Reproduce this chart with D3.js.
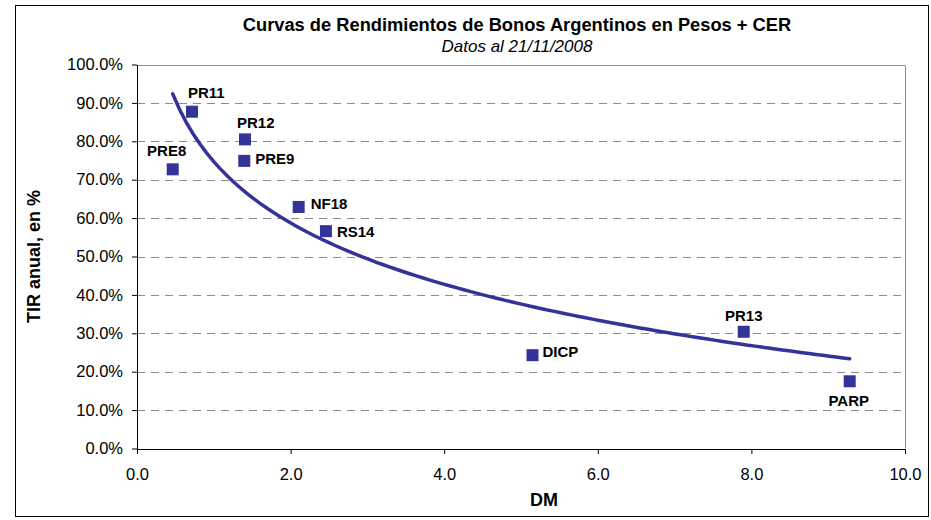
<!DOCTYPE html>
<html>
<head>
<meta charset="utf-8">
<script src="https://cdn.jsdelivr.net/npm/d3@7"></script>
<style>
  body { margin: 0; background: #fff; }
  svg { display: block; font-family: "Liberation Sans", Arial, sans-serif; }
</style>
</head>
<body>
<script>
// bonos (duracion modificada vs TIR)
let bonds = ["PRE8", "PR11", "PR12", "PRE9", "NF18", "RS14", "DICP", "PR13", "PARP"];
let dm    = [0.465, 0.716, 1.406, 1.397, 2.105, 2.46, 5.15, 7.90, 9.28];
let tir   = [0.727, 0.877, 0.805, 0.749, 0.629, 0.566, 0.243, 0.304, 0.175];

let xTicks = [0, 2, 4, 6, 8, 10];
let yTicks = [0, 0.1, 0.2, 0.3, 0.4, 0.5, 0.6, 0.7, 0.8, 0.9, 1.0];

// donde va cada etiqueta respecto del punto: [dx, dy, anchor]
let labelPlace = [
  [-6, -13, "middle"],
  [-4, -14, "start"],
  [-8, -11, "start"],
  [11, 3, "start"],
  [12, 2, "start"],
  [11, 6, "start"],
  [10, 2, "start"],
  [0, -11, "middle"],
  [-1, 25, "middle"]
];

let w = 931, h = 520;
let pad = { top: 64.5, rig: 26, bot: 71.5, lef: 137 };
let navy = "#333399";

let svg = d3.select("body").append("svg")
  .attr("width", w)
  .attr("height", h)
  .attr("viewBox", "0 0 " + w + " " + h);

// marco exterior
svg.append("rect")
  .attr("x", 15.5).attr("y", 5.5)
  .attr("width", 913).attr("height", 511)
  .attr("fill", "none")
  .attr("stroke", "#000")
  .attr("stroke-width", 1);

let xScale = d3.scaleLinear().domain([0, 10]).range([pad.lef, w - pad.rig]);
let yScale = d3.scaleLinear().domain([0, 1]).range([h - pad.bot, pad.top]);

// grilla
svg.append("g")
  .selectAll("line")
  .data(yTicks.filter(d => d > 0 && d < 1))
  .enter()
  .append("line")
  .attr("x1", xScale(0)).attr("x2", xScale(10))
  .attr("y1", d => Math.round(yScale(d)) + 0.5)
  .attr("y2", d => Math.round(yScale(d)) + 0.5)
  .attr("stroke", "#8c8c8c")
  .attr("stroke-dasharray", "8,6");

// borde gris arriba y a la derecha
svg.append("path")
  .attr("d", "M" + xScale(0) + "," + (Math.round(yScale(1)) + 0.5) +
             "H" + (Math.round(xScale(10)) + 0.5) + "V" + yScale(0))
  .attr("fill", "none")
  .attr("stroke", "#8c8c8c");

let xAxis = svg.append("g")
  .attr("transform", "translate(0," + Math.round(yScale(0)) + ")")
  .call(d3.axisBottom(xScale).tickValues(xTicks).tickFormat(d3.format(".1f")).tickSize(5).tickSizeOuter(0));
xAxis.selectAll("text").attr("font-size", "16.5px").attr("dy", "1.4em").attr("fill", "#000");

let yAxis = svg.append("g")
  .attr("transform", "translate(" + xScale(0) + ",0)")
  .call(d3.axisLeft(yScale).tickValues(yTicks).tickFormat(d3.format(".1%")).tickSize(5).tickSizeOuter(0));
yAxis.selectAll("text").attr("font-size", "16.5px").attr("x", -14).attr("fill", "#000");

svg.selectAll(".domain, .tick line").attr("stroke", "#000");
svg.selectAll("g text").attr("font-family", "'Liberation Sans', Arial, sans-serif");

// linea de tendencia logaritmica (ajuste por minimos cuadrados, como Excel)
let lnx = dm.map(Math.log);
let mx = d3.mean(lnx), my = d3.mean(tir);
let b = d3.sum(lnx, (v, i) => (v - mx) * (tir[i] - my)) / d3.sum(lnx, v => (v - mx) * (v - mx));
let a = my - b * mx;
let xr = d3.extent(dm);
let trendX = d3.range(0, 101).map(i => xr[0] + (xr[1] - xr[0]) * i / 100);

svg.append("path")
  .datum(trendX)
  .attr("fill", "none")
  .attr("stroke", navy)
  .attr("stroke-width", 3.5)
  .attr("stroke-linecap", "round")
  .attr("d", d3.line().x(d => xScale(d)).y(d => yScale(a + b * Math.log(d))));

// puntos
let pts = bonds.map((n, i) => ({ name: n, x: dm[i], y: tir[i], lp: labelPlace[i] }));
let size = 12;
svg.append("g")
  .selectAll("rect")
  .data(pts)
  .enter()
  .append("rect")
  .attr("x", d => xScale(d.x) - size / 2)
  .attr("y", d => yScale(d.y) - size / 2)
  .attr("width", size)
  .attr("height", size)
  .attr("fill", navy);

svg.append("g")
  .selectAll("text")
  .data(pts)
  .enter()
  .append("text")
  .text(d => d.name)
  .attr("x", d => xScale(d.x) + d.lp[0])
  .attr("y", d => yScale(d.y) + d.lp[1])
  .attr("text-anchor", d => d.lp[2])
  .attr("font-size", "15px")
  .attr("font-weight", "bold");

// titulos
svg.append("text")
  .text("Curvas de Rendimientos de Bonos Argentinos en Pesos + CER")
  .attr("x", 517).attr("y", 31)
  .attr("text-anchor", "middle")
  .attr("font-size", "18.3px")
  .attr("font-weight", "bold");
svg.append("text")
  .text("Datos al 21/11/2008")
  .attr("x", 517).attr("y", 52)
  .attr("text-anchor", "middle")
  .attr("font-size", "17px")
  .attr("font-style", "italic");
svg.append("text")
  .text("DM")
  .attr("x", 544).attr("y", 506)
  .attr("text-anchor", "middle")
  .attr("font-size", "18px")
  .attr("font-weight", "bold");
svg.append("text")
  .text("TIR anual, en %")
  .attr("transform", "translate(40," + ((yScale(0) + yScale(1)) / 2) + ") rotate(-90)")
  .attr("text-anchor", "middle")
  .attr("font-size", "18px")
  .attr("font-weight", "bold");
</script>
</body>
</html>
